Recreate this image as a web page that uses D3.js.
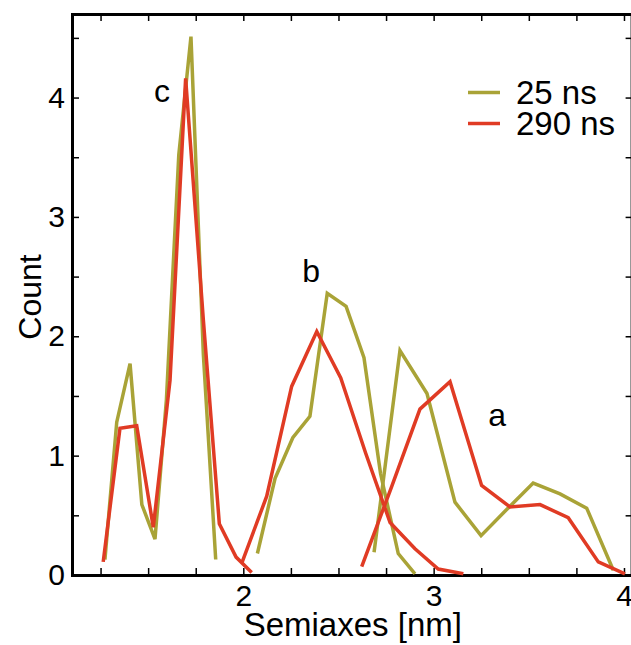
<!DOCTYPE html>
<html>
<head>
<meta charset="utf-8">
<script src="https://cdn.jsdelivr.net/npm/d3@7"></script>
<style>
  body { margin: 0; background: #fff; }
  svg { display: block; }
  text { font-family: "Liberation Sans", Arial, Helvetica, sans-serif; fill: #000; }
</style>
</head>
<body>
<svg id="chart" width="631" height="645"></svg>
<script>
// Semiaxis histograms (bin centre in nm, count) for the three semiaxes c, b, a
// at two simulation times.
const semi25c = [1.273, 1.335, 1.405, 1.467, 1.536, 1.596, 1.661, 1.725, 1.790, 1.855];
const count25c = [0.13, 1.28, 1.77, 0.59, 0.30, 1.47, 3.52, 4.51, 1.85, 0.13];
const semi25b = [2.074, 2.167, 2.260, 2.350, 2.441, 2.540, 2.634, 2.721, 2.814, 2.902];
const count25b = [0.18, 0.81, 1.15, 1.33, 2.36, 2.25, 1.82, 0.85, 0.18, 0.01];
const semi25a = [2.687, 2.823, 2.965, 3.112, 3.249, 3.385, 3.523, 3.664, 3.804, 3.944];
const count25a = [0.19, 1.88, 1.52, 0.61, 0.33, 0.55, 0.77, 0.68, 0.56, 0.04];

const semi290c = [1.264, 1.352, 1.440, 1.527, 1.615, 1.697, 1.790, 1.874, 1.962, 2.044];
const count290c = [0.11, 1.23, 1.25, 0.40, 1.63, 4.16, 2.14, 0.43, 0.15, 0.02];
const semi290b = [1.992, 2.123, 2.254, 2.386, 2.512, 2.643, 2.771, 2.902, 3.024, 3.156];
const count290b = [0.10, 0.66, 1.58, 2.04, 1.65, 1.02, 0.44, 0.22, 0.05, 0.01];
const semi290a = [2.622, 2.777, 2.928, 3.086, 3.252, 3.401, 3.559, 3.707, 3.865, 4.005];
const count290a = [0.07, 0.73, 1.39, 1.62, 0.75, 0.57, 0.59, 0.48, 0.11, 0.01];

const seriesNames = ["25 ns", "290 ns"];
const seriesColors = ["#a9a337", "#e03b24"];

const peakLabels = ["c", "b", "a"];
const peakLabelX = [1.573, 2.356, 3.333];
const peakLabelY = [3.96, 2.455, 1.248];

const xTickValues = d3.range(1.25, 4.01, 0.25);
const yTickValues = d3.range(0, 4.51, 0.5);

const svg = d3.select("#chart");

const x = d3.scaleLinear().domain([1.1, 4.04]).range([72, 631.6]);
const y = d3.scaleLinear().domain([0, 4.7]).range([575, 14]);

const isInt = d => Math.abs(d - Math.round(d)) < 1e-9;

// frame and inward ticks
const styleAxis = g => {
  g.select(".domain").attr("stroke-width", 3).attr("stroke-linecap", "square");
  g.selectAll(".tick line").attr("stroke-width", 1.5);
  g.selectAll(".tick text").attr("font-size", 30).attr("font-family", "'Liberation Sans', Arial, sans-serif");
};

svg.append("g")
  .attr("transform", `translate(0,${y(0)})`)
  .call(d3.axisBottom(x).tickValues(xTickValues)
    .tickFormat(d => isInt(d) ? d3.format("d")(d) : "")
    .tickSizeInner(-7).tickSizeOuter(0).tickPadding(10))
  .call(styleAxis);

svg.append("g")
  .attr("transform", `translate(0,${y(4.7)})`)
  .call(d3.axisTop(x).tickValues(xTickValues).tickFormat("")
    .tickSizeInner(-7).tickSizeOuter(0))
  .call(styleAxis);

svg.append("g")
  .attr("transform", `translate(${x(1.1)},0)`)
  .call(d3.axisLeft(y).tickValues(yTickValues)
    .tickFormat(d => isInt(d) ? d3.format("d")(d) : "")
    .tickSizeInner(-7).tickSizeOuter(0).tickPadding(7))
  .call(styleAxis);

svg.append("g")
  .attr("transform", `translate(${x(4.04)},0)`)
  .call(d3.axisRight(y).tickValues(yTickValues).tickFormat("")
    .tickSizeInner(-6).tickSizeOuter(0))
  .call(styleAxis);

// histogram curves
const line = d3.line().x(d => x(d[0])).y(d => y(d[1]));
const groups = [
  [[semi25c, count25c], [semi25b, count25b], [semi25a, count25a]],
  [[semi290c, count290c], [semi290b, count290b], [semi290a, count290a]]
];
groups.forEach((grp, si) => {
  grp.forEach(([xs, ys]) => {
    svg.append("path")
      .datum(xs.map((v, i) => [v, ys[i]]))
      .attr("fill", "none")
      .attr("stroke", seriesColors[si])
      .attr("stroke-width", 3.5)
      .attr("d", line);
  });
});

// peak annotations
peakLabels.forEach((t, i) => {
  svg.append("text")
    .attr("x", x(peakLabelX[i]))
    .attr("y", y(peakLabelY[i]))
    .attr("text-anchor", "middle")
    .attr("font-size", 32)
    .text(t);
});

// legend
const legend = svg.append("g");
seriesNames.forEach((name, i) => {
  const ly = 92.5 + i * 31;
  legend.append("line")
    .attr("x1", 468).attr("x2", 500)
    .attr("y1", ly).attr("y2", ly)
    .attr("stroke", seriesColors[i]).attr("stroke-width", 3.5);
  legend.append("text")
    .attr("x", 516).attr("y", ly + 11.5)
    .attr("font-size", 33)
    .text(name);
});

// axis titles
svg.append("text")
  .attr("x", (x(1.1) + x(4.04)) / 2 + 1)
  .attr("y", 636)
  .attr("text-anchor", "middle")
  .attr("font-size", 33)
  .text("Semiaxes [nm]");

svg.append("text")
  .attr("transform", "translate(41,297) rotate(-90)")
  .attr("text-anchor", "middle")
  .attr("font-size", 32)
  .text("Count");
</script>
</body>
</html>
